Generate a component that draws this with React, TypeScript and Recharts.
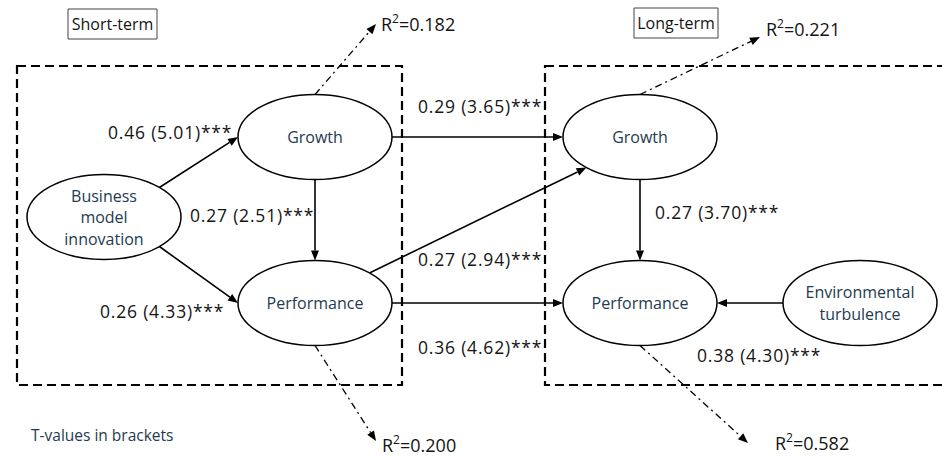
import { ScatterChart, Scatter, XAxis, YAxis, ReferenceLine, ReferenceArea } from "recharts";

const W = 942;
const H = 456;
const FONT = "'Open Sans', sans-serif";
const NODE_COLOR = "#243a50";
const TEXT_COLOR = "#141414";

// latent constructs (0: BMI, 1-2: short-term, 3-4: long-term, 5: moderator)
const nodeLabels = [
  ["Business", "model", "innovation"],
  ["Growth"],
  ["Performance"],
  ["Growth"],
  ["Performance"],
  ["Environmental", "turbulence"],
];

// structural paths: coefficient (t-value)
const pathFrom = [0, 0, 1, 1, 2, 2, 3, 5];
const pathTo = [1, 2, 2, 3, 3, 4, 4, 4];
const pathCoef = [
  "0.46 (5.01)***",
  "0.26 (4.33)***",
  "0.27 (2.51)***",
  "0.29 (3.65)***",
  "0.27 (2.94)***",
  "0.36 (4.62)***",
  "0.27 (3.70)***",
  "0.38 (4.30)***",
];

// explained variance
const r2Nodes = [1, 3, 2, 4];
const r2Values = ["0.182", "0.221", "0.200", "0.582"];

const groupLabels = ["Short-term", "Long-term"];
const note = "T-values in brackets";

// layout (diagram units = pixels)
const nodeX = [104, 315, 315, 640, 640, 860];
const nodeY = [217, 137, 303, 137, 303, 303];
const RX = 77;
const RY = 42.5;
const pathFromAngle = [-44, 44, 90, 0, -45, 0, 90, 180];
const pathToAngle = [180, 180, 270, 180, 134, 180, 270, 0];
const coefX = [108, 100, 190, 418, 418, 418, 655, 697];
const coefY = [132, 311, 215, 106, 259, 347, 212, 355];
const r2Angle = [270, 270, 90, 90];
const r2TipX = [376, 760, 376, 748];
const r2TipY = [24, 37, 441, 443];
const r2LabelX = [381, 766, 382, 775];
const r2LabelY = [24, 29, 445, 443];
const groupBox = [
  [68, 157, 9, 39],
  [634, 718, 8, 38],
];

const anchor = (n: number, deg: number) => {
  const a = (deg * Math.PI) / 180;
  return { x: nodeX[n] + RX * Math.cos(a), y: nodeY[n] + RY * Math.sin(a) };
};

const nodeData = nodeLabels.map((lines, i) => ({ x: nodeX[i], y: nodeY[i], lines }));
const coefData = pathCoef.map((t, i) => ({ x: coefX[i], y: coefY[i], text: t }));
const r2Data = r2Values.map((v, i) => ({ x: r2LabelX[i], y: r2LabelY[i], value: v }));

function arrowShape(dashed: boolean) {
  return (p: any) => {
    const x1 = Number(p.x1), y1 = Number(p.y1), x2 = Number(p.x2), y2 = Number(p.y2);
    const a = Math.atan2(y2 - y1, x2 - x1);
    const L = 10;
    const hw = 4;
    const bx = x2 - L * Math.cos(a);
    const by = y2 - L * Math.sin(a);
    const pts = `${x2},${y2} ${bx - hw * Math.sin(a)},${by + hw * Math.cos(a)} ${bx + hw * Math.sin(a)},${by - hw * Math.cos(a)}`;
    return (
      <g>
        <line
          x1={x1}
          y1={y1}
          x2={bx}
          y2={by}
          stroke="#000"
          strokeWidth={dashed ? 1.3 : 1.6}
          strokeDasharray={dashed ? "7 4 2 4" : undefined}
        />
        <polygon points={pts} fill="#000" />
      </g>
    );
  };
}

const NodeShape = (p: any) => {
  const lines: string[] = p.payload.lines;
  const lh = 21.5;
  const y0 = p.cy - ((lines.length - 1) * lh) / 2;
  return (
    <g>
      <ellipse cx={p.cx} cy={p.cy} rx={RX} ry={RY} fill="#fff" stroke="#000" strokeWidth={1.5} />
      {lines.map((l, i) => (
        <text
          key={i}
          x={p.cx}
          y={y0 + i * lh}
          textAnchor="middle"
          dominantBaseline="central"
          fontFamily={FONT}
          fontSize={16}
          fill={NODE_COLOR}
        >
          {l}
        </text>
      ))}
    </g>
  );
};

const CoefShape = (p: any) => (
  <text
    x={p.cx}
    y={p.cy}
    dominantBaseline="central"
    fontFamily={FONT}
    fontSize={17.5}
    letterSpacing={0.8}
    fill={TEXT_COLOR}
  >
    {p.payload.text}
  </text>
);

const R2Shape = (p: any) => (
  <text x={p.cx} y={p.cy} dominantBaseline="central" fontFamily={FONT} fontSize={18} fill={TEXT_COLOR}>
    R
    <tspan dy={-6} fontSize={12}>2</tspan>
    <tspan dy={6}>={p.payload.value}</tspan>
  </text>
);

const NoteShape = (p: any) => (
  <text x={p.cx} y={p.cy} dominantBaseline="central" fontFamily={FONT} fontSize={15.5} fill={NODE_COLOR}>
    {note}
  </text>
);

export default function App() {
  return (
    <div style={{ position: "absolute", left: 0, top: 0, width: W, height: H, background: "#fff" }}>
      <ScatterChart width={W} height={H} margin={{ top: 0, right: 0, bottom: 0, left: 0 }}>
        <XAxis type="number" dataKey="x" domain={[0, W]} allowDataOverflow hide />
        <YAxis type="number" dataKey="y" domain={[0, H]} allowDataOverflow reversed hide />

        <ReferenceArea x1={17} x2={402} y1={66} y2={385} fill="none" stroke="#000" strokeWidth={2.2} strokeDasharray="9 5" ifOverflow="visible" />
        <ReferenceArea x1={545} x2={W + 20} y1={66} y2={385} fill="none" stroke="#000" strokeWidth={2.2} strokeDasharray="9 5" ifOverflow="visible" />

        {groupLabels.map((g, i) => (
          <ReferenceArea
            key={g}
            x1={groupBox[i][0]}
            x2={groupBox[i][1]}
            y1={groupBox[i][2]}
            y2={groupBox[i][3]}
            fill="#fff"
            fillOpacity={1}
            stroke="#444"
            strokeWidth={1}
            ifOverflow="visible"
            label={{ value: g, position: "center", fill: TEXT_COLOR, fontSize: 16, fontFamily: FONT }}
          />
        ))}

        {pathFrom.map((f, i) => (
          <ReferenceLine
            key={`p${i}`}
            segment={[anchor(f, pathFromAngle[i]), anchor(pathTo[i], pathToAngle[i])]}
            ifOverflow="visible"
            shape={arrowShape(false)}
          />
        ))}

        {r2Nodes.map((n, i) => (
          <ReferenceLine
            key={`r${i}`}
            segment={[anchor(n, r2Angle[i]), { x: r2TipX[i], y: r2TipY[i] }]}
            ifOverflow="visible"
            shape={arrowShape(true)}
          />
        ))}

        <Scatter data={nodeData} shape={NodeShape} isAnimationActive={false} />
        <Scatter data={coefData} shape={CoefShape} isAnimationActive={false} />
        <Scatter data={r2Data} shape={R2Shape} isAnimationActive={false} />
        <Scatter data={[{ x: 31, y: 435 }]} shape={NoteShape} isAnimationActive={false} />
      </ScatterChart>
    </div>
  );
}
